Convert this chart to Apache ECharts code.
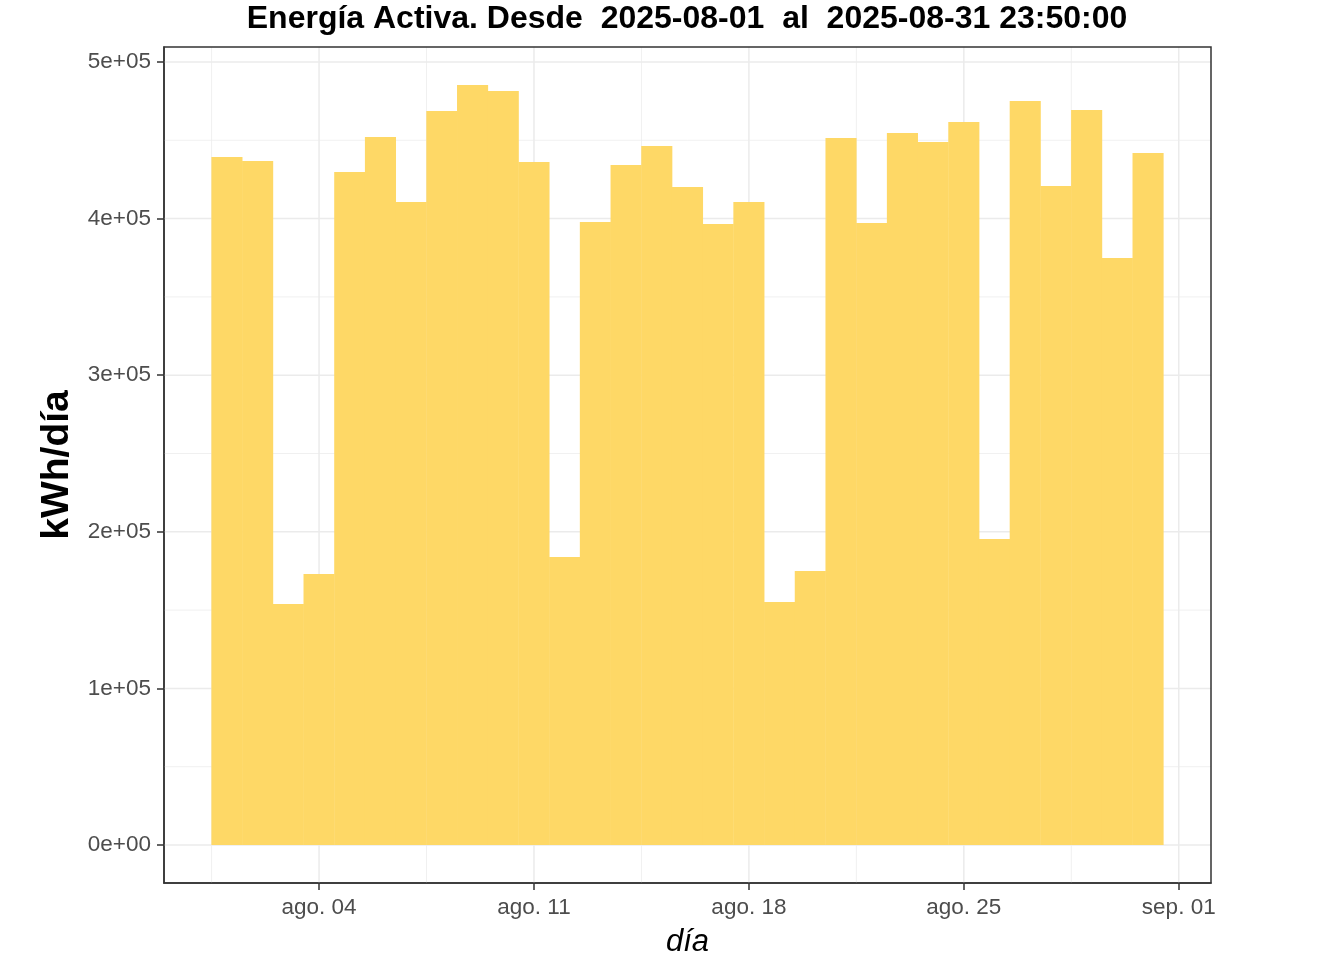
<!DOCTYPE html>
<html>
<head>
<meta charset="utf-8">
<script src="https://cdn.jsdelivr.net/npm/echarts@6/dist/echarts.min.js"></script>
<style>html,body{margin:0;padding:0;background:#fff;}#chart{width:1344px;height:960px;}</style>
</head>
<body>
<div id="chart"></div>
<script>
// Day of August 2025 (1..31)
const days = [1,2,3,4,5,6,7,8,9,10,11,12,13,14,15,16,17,18,19,20,21,22,23,24,25,26,27,28,29,30,31];
// Daily active energy (kWh/day)
const energy = [439300,436800,153900,173100,429800,452100,410600,468700,485300,481500,436100,183900,397800,434200,446400,420200,396600,410600,155200,175000,451500,397200,454700,448900,461700,195400,475100,420800,469300,374800,441900];
// Axis ticks (x: day numbers relative to August; 32 = Sep 01)
const xMajor = [4, 11, 18, 25, 32];
const xMinor = [0.5, 7.5, 14.5, 21.5, 28.5];
const xLabels = {4: 'ago. 04', 11: 'ago. 11', 18: 'ago. 18', 25: 'ago. 25', 32: 'sep. 01'};
const yMajor = [0, 100000, 200000, 300000, 400000, 500000];
const yMinor = [50000, 150000, 250000, 350000, 450000];
const yLabels = ['0e+00', '1e+05', '2e+05', '3e+05', '4e+05', '5e+05'];

const maxV = Math.max(...energy);
const yMin = -0.05 * maxV, yMax = maxV * 1.05;
const xMin = 0.5 - 0.05 * 31, xMax = 31.5 + 0.05 * 31;

// grid line specs: [orientation (0 = vertical at x, 1 = horizontal at y), value, major?]
const gridLines = []
  .concat(xMajor.map(v => [0, v, 1]))
  .concat(xMinor.map(v => [0, v, 0]))
  .concat(yMajor.map(v => [1, v, 1]))
  .concat(yMinor.map(v => [1, v, 0]));

const FONT = 'Liberation Sans, Arial, sans-serif';
const chart = echarts.init(document.getElementById('chart'), null, {renderer: 'canvas'});
chart.setOption({
  animation: false,
  backgroundColor: '#ffffff',
  title: {
    text: 'Energía Activa. Desde  2025-08-01  al  2025-08-31 23:50:00',
    left: 682, top: -2, textAlign: 'center',
    textStyle: {fontFamily: FONT, fontWeight: 'bold', fontSize: 32, color: '#000'}
  },
  grid: {left: 164, top: 47, width: 1047, height: 836, containLabel: false, outerBoundsMode: 'none',
    show: true, borderColor: '#333333', borderWidth: 1.5, backgroundColor: 'transparent', z: 20},
  xAxis: {
    type: 'value', min: xMin, max: xMax,
    name: 'día', nameLocation: 'middle', nameGap: 44,
    nameTextStyle: {fontFamily: FONT, fontStyle: 'italic', fontSize: 31, color: '#000'},
    axisLine: {show: true, onZero: false, lineStyle: {color: '#333333', width: 1.5}},
    axisTick: {show: true, inside: false, length: 7, customValues: xMajor, lineStyle: {color: '#333333', width: 1.5}},
    axisLabel: {show: true, customValues: xMajor, margin: 13, fontFamily: FONT, fontSize: 22.5, color: '#4D4D4D',
      formatter: v => xLabels[Math.round(v)] || ''},
    splitLine: {show: false}, minorSplitLine: {show: false}
  },
  yAxis: {
    type: 'value', min: yMin, max: yMax,
    name: 'kWh/día', nameLocation: 'middle', nameGap: 86, nameRotate: 90,
    nameTextStyle: {fontFamily: FONT, fontWeight: 'bold', fontSize: 39, color: '#000'},
    axisLine: {show: true, onZero: false, lineStyle: {color: '#333333', width: 1.5}},
    axisTick: {show: true, inside: false, length: 7, customValues: yMajor, lineStyle: {color: '#333333', width: 1.5}},
    axisLabel: {show: true, customValues: yMajor, margin: 13, fontFamily: FONT, fontSize: 22.5, color: '#4D4D4D',
      formatter: v => { const i = yMajor.indexOf(Math.round(v)); return i >= 0 ? yLabels[i] : ''; }},
    splitLine: {show: false}, minorSplitLine: {show: false}
  },
  series: [
    {
      type: 'custom', z: 1, silent: true, clip: true,
      data: gridLines,
      encode: {x: -1, y: -1},
      renderItem: function (params, api) {
        const cs = params.coordSys;
        const orient = api.value(0), val = api.value(1), major = api.value(2);
        let x1, y1, x2, y2;
        if (orient === 0) {
          const p = api.coord([val, 0]);
          x1 = x2 = p[0]; y1 = cs.y; y2 = cs.y + cs.height;
        } else {
          const p = api.coord([0, val]);
          y1 = y2 = p[1]; x1 = cs.x; x2 = cs.x + cs.width;
        }
        return {
          type: 'line',
          shape: {x1: x1, y1: y1, x2: x2, y2: y2},
          style: {stroke: '#EBEBEB', lineWidth: major ? 1.5 : 0.75}
        };
      }
    },
    {
      type: 'bar', z: 10, barWidth: 31.1, barGap: '-100%', large: false,
      itemStyle: {color: 'rgb(254,216,102)', opacity: 1, borderWidth: 0},
      emphasis: {disabled: true},
      data: days.map((d, i) => [d, energy[i]])
    }
  ]
});
</script>
</body>
</html>
